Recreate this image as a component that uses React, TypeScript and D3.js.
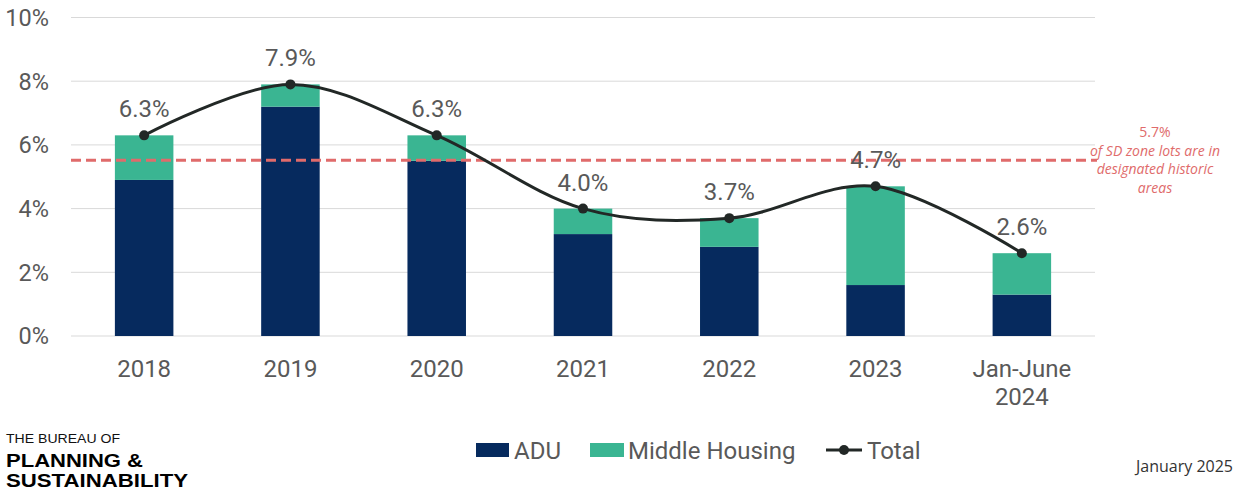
import React from "react";
import * as d3 from "d3";

const categories = ["2018", "2019", "2020", "2021", "2022", "2023", "Jan-June 2024"];
const aduValues = [4.9, 7.2, 5.5, 3.2, 2.8, 1.6, 1.3];
const middleValues = [1.4, 0.7, 0.8, 0.8, 0.9, 3.1, 1.3];
const totalValues = [6.3, 7.9, 6.3, 4.0, 3.7, 4.7, 2.6];
const yTicks = [0, 2, 4, 6, 8, 10];
const thresholdValue = 5.52;
const thresholdLines = ["5.7%", "of SD zone lots are in", "designated historic", "areas"];
const legendLabels = ["ADU", "Middle Housing", "Total"];

const W = 1234;
const H = 491;
const PL = 71;
const PR = 1095;
const PT = 17.5;
const PB = 336;

const ADU = "#062A5E";
const MID = "#3AB592";
const LINE = "#222826";
const TXT = "#595959";
const RED = "#E06B6B";
const FONT = "Roboto, 'Noto Sans', sans-serif";
const LOGO = "'Liberation Sans', Arial, sans-serif";

export default function App() {
  const x = d3.scaleBand<string>().domain(categories).range([PL, PR]).paddingInner(0.6).paddingOuter(0.3);
  const xc = (c: string) => (x(c) as number) + x.bandwidth() / 2;
  const y = d3.scaleLinear().domain([0, 10]).range([PB, PT]);

  const lineGen = d3
    .line<number>()
    .x((_, i) => xc(categories[i]))
    .y((d) => y(d))
    .curve(d3.curveCardinal.tension(0));

  return (
    <svg width={W} height={H} style={{ position: "absolute", left: 0, top: 0, background: "#fff" }} fontFamily={FONT}>
      {yTicks.map((t) => (
        <g key={t}>
          <line x1={PL} x2={PR} y1={y(t)} y2={y(t)} stroke="#D9D9D9" strokeWidth={1} />
          <text x={49} y={y(t)} dy="0.36em" textAnchor="end" fontSize={23.5} fill={TXT}>
            {t}%
          </text>
        </g>
      ))}
      {categories.map((c, i) => (
        <g key={c}>
          <rect x={x(c)} width={x.bandwidth()} y={y(aduValues[i])} height={y(0) - y(aduValues[i])} fill={ADU} />
          <rect
            x={x(c)}
            width={x.bandwidth()}
            y={y(aduValues[i] + middleValues[i])}
            height={y(aduValues[i]) - y(aduValues[i] + middleValues[i])}
            fill={MID}
          />
          {c.split(" ").map((part, k) => (
            <text key={k} x={xc(c)} y={376.5 + k * 28.5} textAnchor="middle" fontSize={24} fill={TXT}>
              {part}
            </text>
          ))}
        </g>
      ))}
      <line
        x1={PL}
        x2={PR + 2}
        y1={y(thresholdValue)}
        y2={y(thresholdValue)}
        stroke={RED}
        strokeWidth={3}
        strokeDasharray="10 5"
      />
      <path d={lineGen(totalValues) || ""} fill="none" stroke={LINE} strokeWidth={3} />
      {totalValues.map((v, i) => (
        <g key={i}>
          <circle cx={xc(categories[i])} cy={y(v)} r={5} fill={LINE} />
          <text x={xc(categories[i])} y={y(v) - 18} textAnchor="middle" fontSize={24} fill={TXT}>
            {v.toFixed(1)}%
          </text>
        </g>
      ))}
      {thresholdLines.map((l, i) => (
        <text
          key={i}
          x={1155}
          y={137 + i * 18.5}
          textAnchor="middle"
          fontSize={14}
          fontStyle={i === 0 ? "normal" : "italic"}
          fill={RED}
          fontFamily="'Open Sans', sans-serif"
        >
          {l}
        </text>
      ))}
      {/* legend */}
      <rect x={476} y={443} width={33} height={14} fill={ADU} />
      <text x={514} y={450} dy="0.36em" fontSize={24} fill={TXT}>
        {legendLabels[0]}
      </text>
      <rect x={590} y={443} width={34} height={14} fill={MID} />
      <text x={628} y={450} dy="0.36em" fontSize={24} fill={TXT}>
        {legendLabels[1]}
      </text>
      <line x1={826} x2={862} y1={450} y2={450} stroke={LINE} strokeWidth={3} />
      <circle cx={844} cy={450} r={5} fill={LINE} />
      <text x={867} y={450} dy="0.36em" fontSize={24} fill={TXT}>
        {legendLabels[2]}
      </text>
      {/* logo */}
      <text x={6} y={443} fontSize={13} fill="#111" fontFamily={LOGO} textLength={114} lengthAdjust="spacingAndGlyphs">
        THE BUREAU OF
      </text>
      <text x={6} y={467} fontSize={18} fontWeight={700} fill="#000" fontFamily={LOGO} textLength={137} lengthAdjust="spacingAndGlyphs">
        PLANNING &amp;
      </text>
      <text x={6} y={487} fontSize={18} fontWeight={700} fill="#000" fontFamily={LOGO} textLength={182} lengthAdjust="spacingAndGlyphs">
        SUSTAINABILITY
      </text>
      <text x={1233} y={472} textAnchor="end" fontSize={16} fill="#333" fontFamily="'Open Sans', sans-serif">
        January 2025
      </text>
    </svg>
  );
}
